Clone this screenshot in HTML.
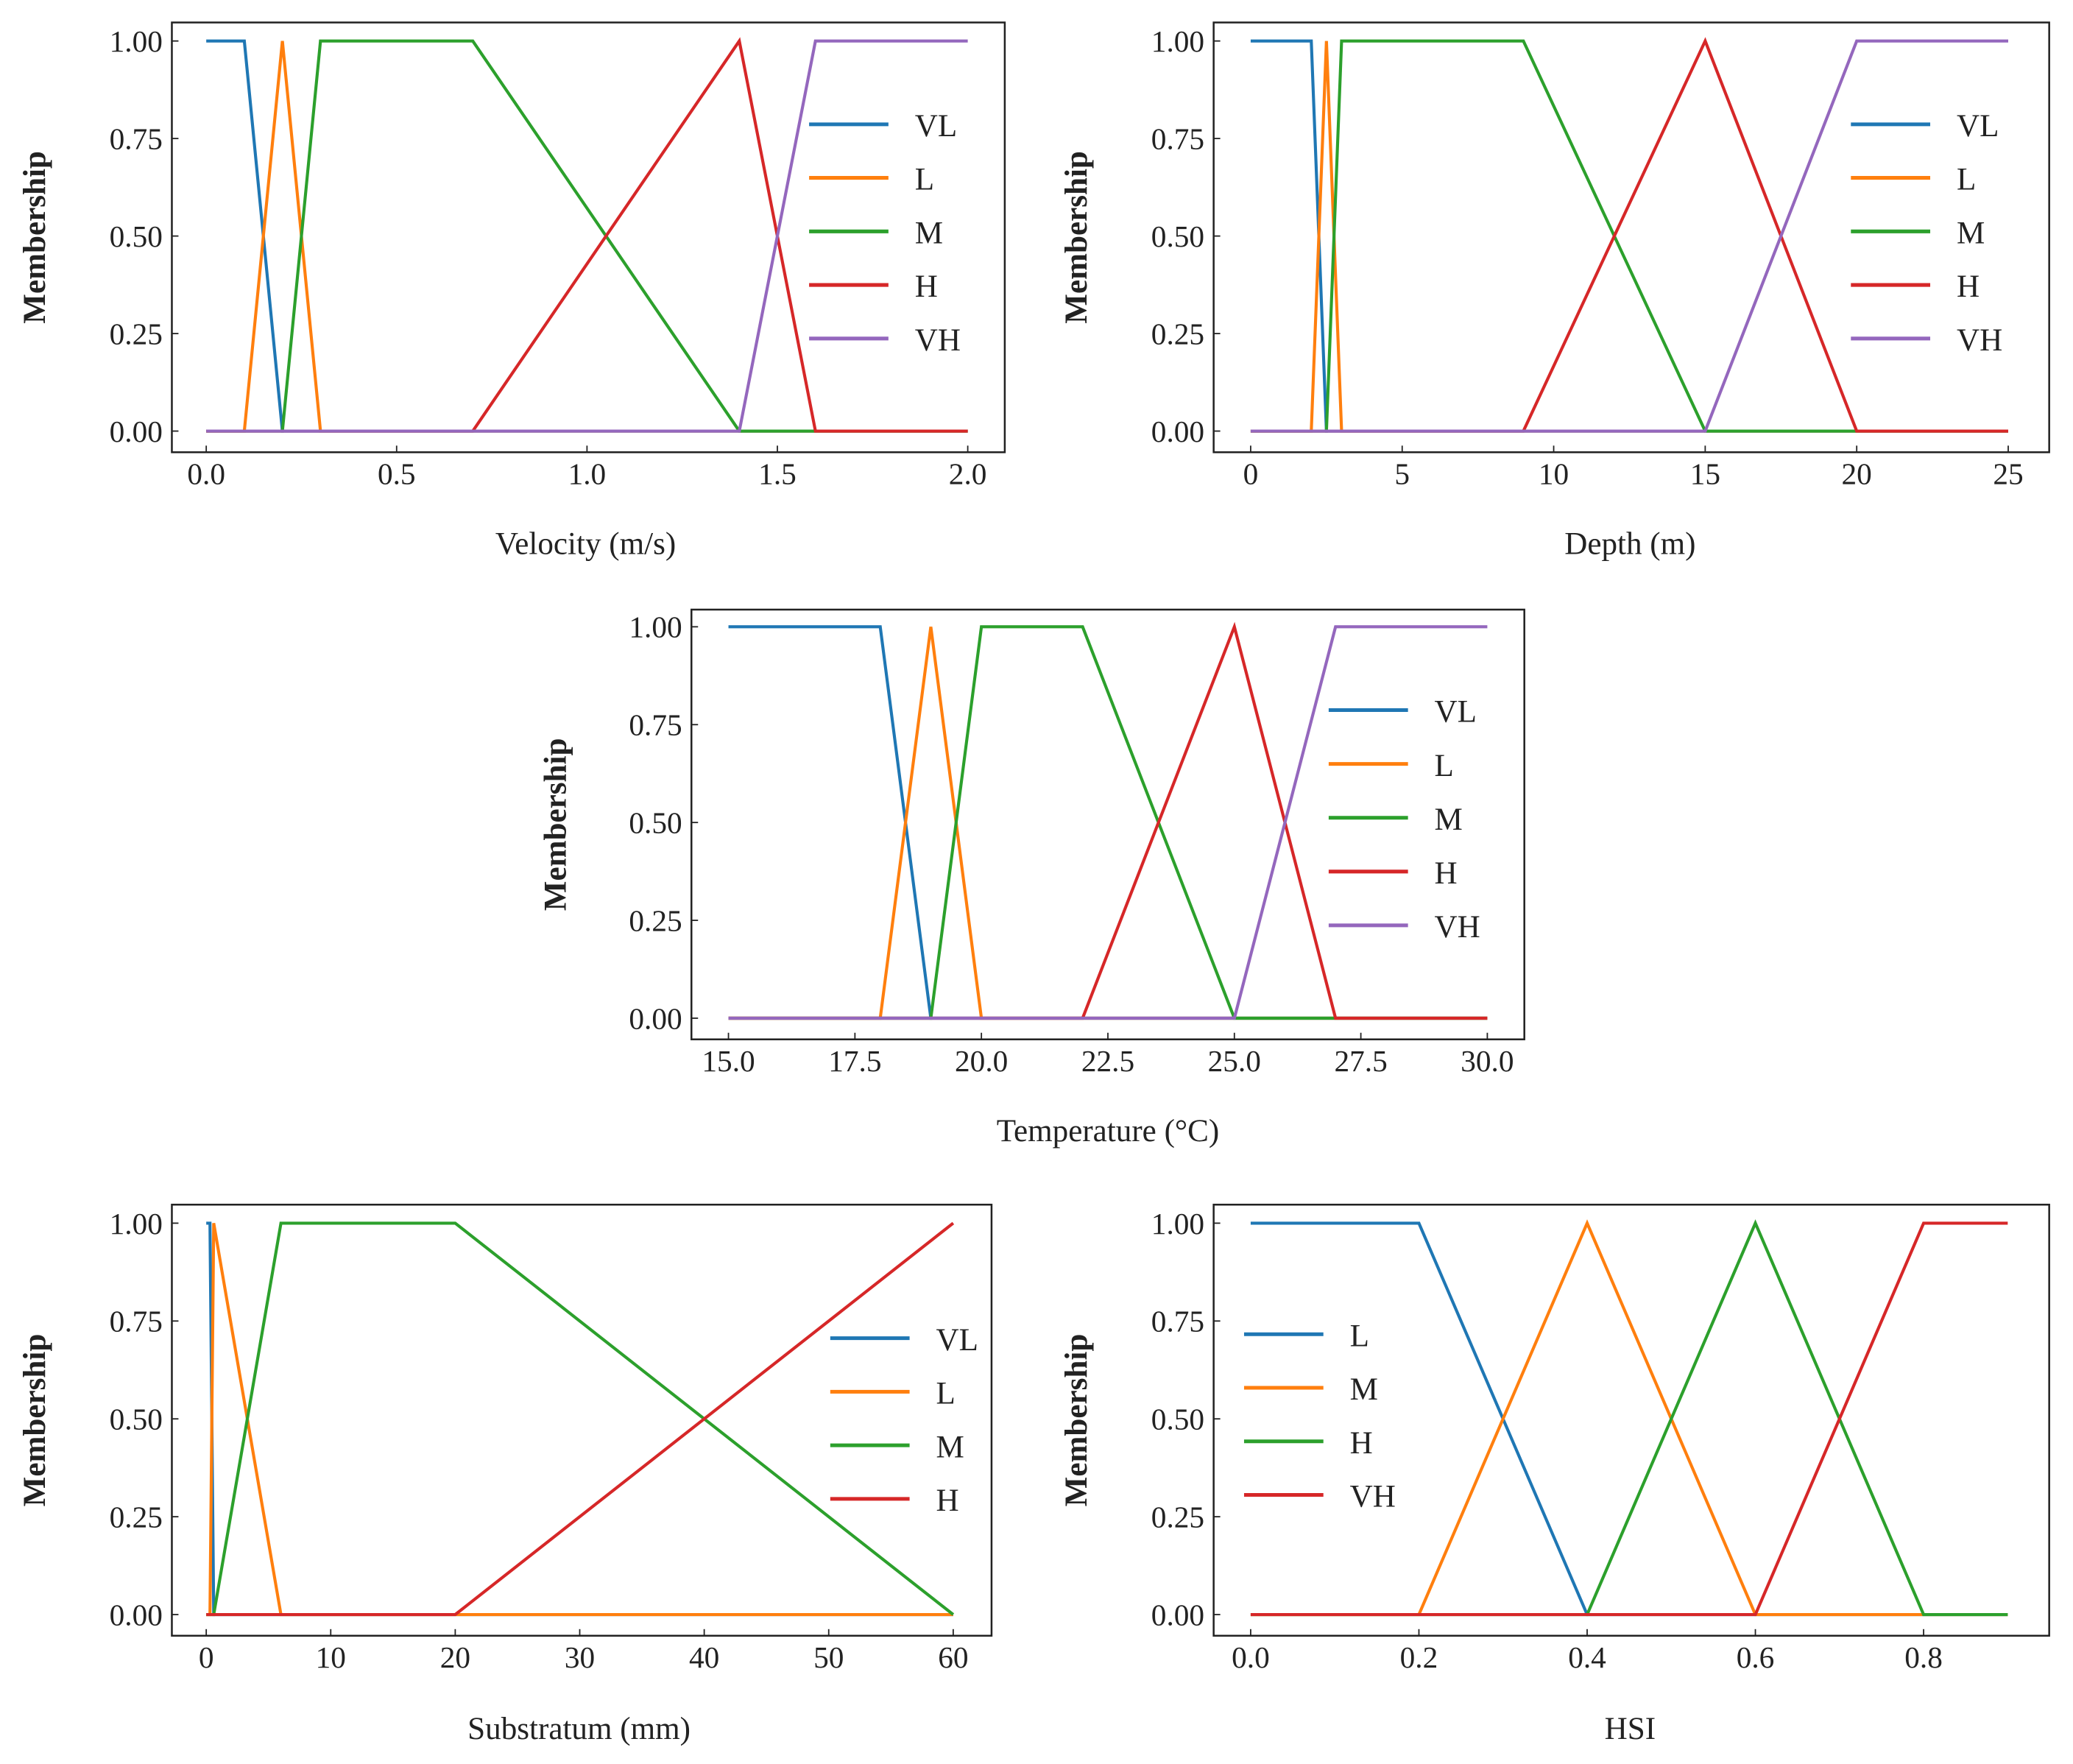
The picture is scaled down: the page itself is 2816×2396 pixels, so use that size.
<!DOCTYPE html>
<html><head><meta charset="utf-8">
<style>html,body{margin:0;padding:0;background:#fff;}svg{display:block;}</style>
</head><body>
<svg id="fig" width="2816" height="2396" viewBox="0 0 1568 1334" preserveAspectRatio="none" xmlns="http://www.w3.org/2000/svg" font-family="'Liberation Serif', serif"></svg>
<script>
// ---- data ----
const velCats = ["VL","L","M","H","VH"];
const velX = [[0,0.1,0.2,2],[0,0.1,0.2,0.3,2],[0,0.2,0.3,0.7,1.4,2],[0,0.7,1.4,1.6,2],[0,1.4,1.6,2]];
const velY = [[1,1,0,0],[0,0,1,0,0],[0,0,1,1,0,0],[0,0,1,0,0],[0,0,1,1]];
const velTicks = [0,0.5,1,1.5,2];
const velTickLabels = ["0.0","0.5","1.0","1.5","2.0"];

const depCats = ["VL","L","M","H","VH"];
const depX = [[0,2,2.5,25],[0,2,2.5,3,25],[0,2.5,3,9,15,25],[0,9,15,20,25],[0,15,20,25]];
const depY = [[1,1,0,0],[0,0,1,0,0],[0,0,1,1,0,0],[0,0,1,0,0],[0,0,1,1]];
const depTicks = [0,5,10,15,20,25];
const depTickLabels = ["0","5","10","15","20","25"];

const tmpCats = ["VL","L","M","H","VH"];
const tmpX = [[15,18,19,30],[15,18,19,20,30],[15,19,20,22,25,30],[15,22,25,27,30],[15,25,27,30]];
const tmpY = [[1,1,0,0],[0,0,1,0,0],[0,0,1,1,0,0],[0,0,1,0,0],[0,0,1,1]];
const tmpTicks = [15,17.5,20,22.5,25,27.5,30];
const tmpTickLabels = ["15.0","17.5","20.0","22.5","25.0","27.5","30.0"];

const subCats = ["VL","L","M","H"];
const subX = [[0,0.3,0.6,60],[0,0.3,0.6,6,60],[0,0.6,6,20,60],[0,20,60]];
const subY = [[1,1,0,0],[0,0,1,0,0],[0,0,1,1,0],[0,0,1]];
const subTicks = [0,10,20,30,40,50,60];
const subTickLabels = ["0","10","20","30","40","50","60"];

const hsiCats = ["L","M","H","VH"];
const hsiX = [[0,0.2,0.4,0.9],[0,0.2,0.4,0.6,0.9],[0,0.4,0.6,0.8,0.9],[0,0.6,0.8,0.9]];
const hsiY = [[1,1,0,0],[0,0,1,0,0],[0,0,1,0,0],[0,0,1,1]];
const hsiTicks = [0,0.2,0.4,0.6,0.8];
const hsiTickLabels = ["0.0","0.2","0.4","0.6","0.8"];

const yTicks = [0,0.25,0.5,0.75,1];
const yTickLabels = ["0.00","0.25","0.50","0.75","1.00"];

const colors = ["#1f77b4","#ff7f0e","#2ca02c","#d62728","#9467bd"];
const NS="http://www.w3.org/2000/svg";
const svg=document.getElementById('fig');
function mk(tag,attrs,parent){const e=document.createElementNS(NS,tag);for(const k in attrs)e.setAttribute(k,attrs[k]);(parent||svg).appendChild(e);return e;}

function panel(id,p,cats,xs,ys,ticks,tickLabels,xlabel){
  const g=mk('g',{});
  
  
  const sx=v=>p.x0+(v-p.d0)/(p.d1-p.d0)*(p.x1-p.x0);
  const sy=v=>p.y0+(p.y1-p.y0)*v;
  cats.forEach((c,i)=>{
    const pts=xs[i].map((x,j)=>sx(x).toFixed(2)+','+sy(ys[i][j]).toFixed(2)).join(' ');
    const l=mk('polyline',{points:pts,fill:'none',stroke:colors[i],'stroke-width':2.3,'stroke-linejoin':'miter'},g);
    
    
  });
  const f=mk('rect',{x:p.fl,y:p.ft,width:p.fr-p.fl,height:p.fb-p.ft,fill:'none',stroke:'#222','stroke-width':1.4},g);
  
  
  ticks.forEach((t,i)=>{
    const x=sx(t);
    mk('line',{x1:x,x2:x,y1:p.fb,y2:p.fb-5,stroke:'#222','stroke-width':1},g);
    const tx=mk('text',{x:x,y:p.fb+24,'font-size':23,'text-anchor':'middle',fill:'#222'},g);
    tx.textContent=tickLabels[i];
    
    
  });
  yTicks.forEach((t,i)=>{
    const y=sy(t);
    mk('line',{x1:p.fl,x2:p.fl+5,y1:y,y2:y,stroke:'#222','stroke-width':1},g);
    const tx=mk('text',{x:p.fl-7,y:y+8,'font-size':23,'text-anchor':'end',fill:'#222'},g);
    tx.textContent=yTickLabels[i];
    
    
  });
  const xl=mk('text',{x:p.xlx,y:p.xly,'font-size':24,'text-anchor':'middle',fill:'#222'},g);
  xl.textContent=xlabel;
  
  
  const cy=(p.ft+p.fb)/2;
  const yl=mk('text',{x:p.ylx,y:cy,'font-size':24,'font-weight':'bold','text-anchor':'middle',fill:'#222',transform:`rotate(-90 ${p.ylx} ${cy})`},g);
  yl.textContent='Membership';
  
  
  cats.forEach((c,i)=>{
    const y=p.lgy+i*p.lgdy;
    const ln=mk('line',{x1:p.lgx,x2:p.lgx+60,y1:y,y2:y,stroke:colors[i],'stroke-width':2.8},g);
    
    
    const t=mk('text',{x:p.lgx+80,y:y+9,'font-size':24,fill:'#222'},g);
    t.textContent=c;
    
    
  });
}
panel('velocity',{fl:130,fr:760,ft:17,fb:342,x0:156,x1:732,d0:0,d1:2,y0:326,y1:31,xlx:443,xly:419,ylx:34,lgx:612,lgy:94,lgdy:40.5},velCats,velX,velY,velTicks,velTickLabels,'Velocity (m/s)');
panel('depth',{fl:918,fr:1550,ft:17,fb:342,x0:946,x1:1519,d0:0,d1:25,y0:326,y1:31,xlx:1233,xly:419,ylx:822,lgx:1400,lgy:94,lgdy:40.5},depCats,depX,depY,depTicks,depTickLabels,'Depth (m)');
panel('temperature',{fl:523,fr:1153,ft:461,fb:786,x0:551,x1:1125,d0:15,d1:30,y0:770,y1:474,xlx:838,xly:863,ylx:428,lgx:1005,lgy:537,lgdy:40.7},tmpCats,tmpX,tmpY,tmpTicks,tmpTickLabels,'Temperature (°C)');
panel('substratum',{fl:130,fr:750,ft:911,fb:1237,x0:156,x1:721,d0:0,d1:60,y0:1221,y1:925,xlx:438,xly:1315,ylx:34,lgx:628,lgy:1012,lgdy:40.5},subCats,subX,subY,subTicks,subTickLabels,'Substratum (mm)');
panel('hsi',{fl:918,fr:1550,ft:911,fb:1237,x0:946,x1:1455,d0:0,d1:0.8,y0:1221,y1:925,xlx:1233,xly:1315,ylx:822,lgx:941,lgy:1009,lgdy:40.5},hsiCats,hsiX,hsiY,hsiTicks,hsiTickLabels,'HSI');
</script>
</body></html>
